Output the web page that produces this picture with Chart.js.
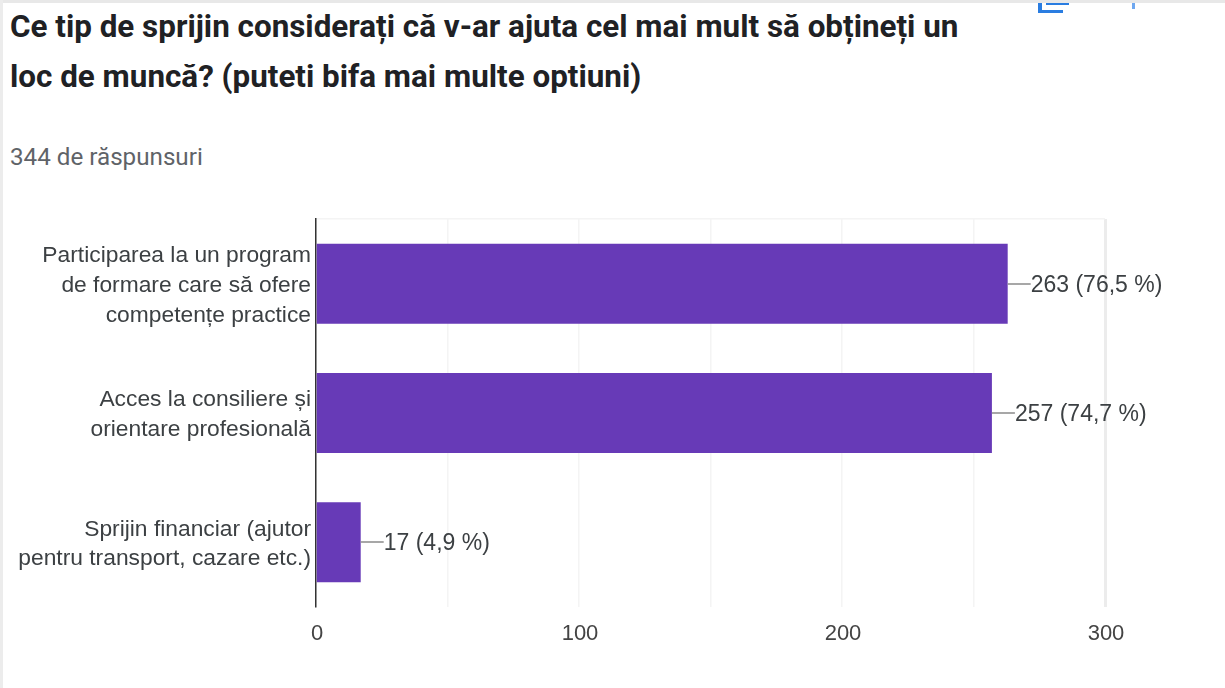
<!DOCTYPE html>
<html lang="ro"><head><meta charset="utf-8">
<style>
html,body{margin:0;padding:0;width:1225px;height:688px;overflow:hidden;background:#fff}
#frameTop{position:absolute;left:0;top:0;width:1225px;height:3px;background:#e8e8e8}
#frameLeft{position:absolute;left:0;top:0;width:3px;height:688px;background:#ececec}
#icon{position:absolute;left:1038px;top:3px;width:25px;height:10px;border:solid #2a7de1;border-width:0 0 3px 4px;box-sizing:border-box}
#icon2{position:absolute;left:1046px;top:3px;width:23px;height:2px;background:#2a7de1}
#icon3{position:absolute;left:1132px;top:3px;width:3px;height:6px;background:#6fa8f0}
.t{position:absolute;left:10px;font-family:Roboto,sans-serif;white-space:nowrap}
.h{font-weight:700;font-size:31.4px;color:#202124}
#sub{top:143px;font-size:24.2px;color:#5f6368}
canvas{position:absolute;left:0;top:0}
</style></head><body>
<div id="frameTop"></div><div id="frameLeft"></div><div id="icon"></div><div id="icon2"></div><div id="icon3"></div>
<div class="t h" style="top:8px">Ce tip de sprijin considerați că v-ar ajuta cel mai mult să obțineți un</div>
<div class="t h" style="top:58px">loc de muncă? (puteti bifa mai multe optiuni)</div>
<div class="t" id="sub">344 de răspunsuri</div>
<canvas id="c" width="1225" height="688"></canvas>
<script src="https://cdn.jsdelivr.net/npm/chart.js@4"></script>
<script>
const categories=[["Participarea la un program","de formare care să ofere","competențe practice"],["Acces la consiliere și","orientare profesională"],["Sprijin financiar (ajutor","pentru transport, cazare etc.)"]];
const values=[263,257,17];
const valueLabels=["263 (76,5 %)","257 (74,7 %)","17 (4,9 %)"];
const xTickLabels=[0,100,200,300];
const font='"Liberation Sans",Arial,sans-serif';
const leaders={id:'leaders',afterDatasetsDraw(ch){
  const c=ch.ctx,m=ch.getDatasetMeta(0);
  c.save();c.font='23px '+font;c.textBaseline='middle';c.textAlign='left';
  m.data.forEach((b,i)=>{
    c.strokeStyle='#8a8a8a';c.lineWidth=1.5;
    c.beginPath();c.moveTo(b.x,Math.round(b.y));c.lineTo(b.x+23,Math.round(b.y));c.stroke();
    c.fillStyle='#3c4043';c.fillText(valueLabels[i],b.x+23,b.y+1.5);
  });
  c.restore();
}};
new Chart(document.getElementById('c'),{
  type:'bar',
  data:{labels:categories,datasets:[{data:values,backgroundColor:'#673ab7',borderWidth:0,barPercentage:.618,categoryPercentage:1}]},
  plugins:[leaders],
  options:{
    indexAxis:'y',responsive:false,animation:false,
    layout:{padding:{left:0,right:120,top:219,bottom:0}},
    plugins:{legend:{display:false},title:{display:false},tooltip:{enabled:false}},
    scales:{
      x:{min:0,max:300,
        afterFit(a){a.height=81},
        border:{display:false},
        grid:{color:c=>c.tick&&c.tick.value===300?'#ececec':'#f4f4f4',lineWidth:c=>c.tick&&c.tick.value===300?3:1.5,drawTicks:false},
        ticks:{stepSize:50,padding:14,labelOffset:1,maxRotation:0,color:'#444',font:{family:font,size:22},
          callback:v=>xTickLabels.includes(v)?String(v):''}},
      y:{
        afterFit(a){a.width=316},
        border:{color:'#333',width:1.5},
        grid:{drawTicks:false,tickLength:0,
          color:c=>c.index===0?'#f4f4f4':(c.index===categories.length?'#f0f0f0':'rgba(0,0,0,0)'),
          lineWidth:c=>c.index===categories.length?3:1.5},
        ticks:{padding:5,labelOffset:2,color:'#3c4043',font:{family:font,size:22.8,lineHeight:1.3},autoSkip:false}}
    }
  }
});
</script></body></html>
